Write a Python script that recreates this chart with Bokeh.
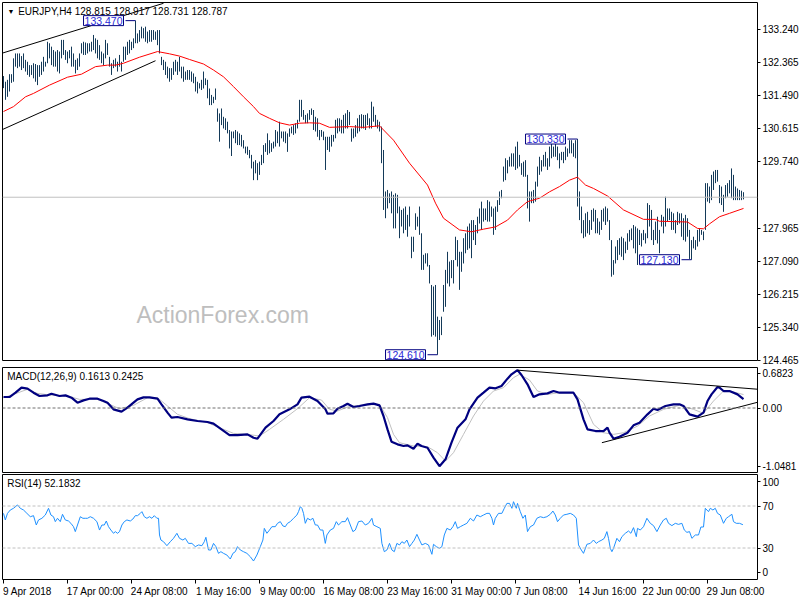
from bokeh.plotting import figure
from bokeh.layouts import column
from bokeh.models import (Range1d, FixedTicker, PrintfTickFormatter, CustomJSTickFormatter,
                          Span, Label)
from bokeh.embed import file_html
from bokeh.resources import INLINE

# ---------------- data ----------------
symbol = "EURJPY,H4"
last_ohlc = [128.815, 128.917, 128.731, 128.787]
last_close = 128.787

bar_high = [
    132.00, 131.85, 131.90, 132.05, 132.05, 132.47, 132.60, 132.60, 132.60, 132.53,
    132.60, 132.43, 132.38, 132.29, 132.29, 132.34, 132.32, 132.29, 132.29, 132.38,
    132.51, 132.38, 132.91, 132.87, 132.78, 132.69, 132.65, 132.69, 132.65, 132.96,
    132.96, 132.69, 132.65, 132.69, 132.78, 132.60, 132.43, 132.47, 132.60, 132.87,
    132.91, 132.89, 132.87, 132.87, 132.91, 133.09, 133.00, 132.96, 132.82, 132.65,
    132.60, 132.96, 132.87, 132.51, 132.34, 132.43, 132.47, 132.38, 132.56, 132.38,
    132.78, 132.78, 132.91, 132.96, 132.91, 133.00, 133.47, 133.13, 133.22, 133.31,
    133.27, 133.31, 133.18, 133.22, 133.22, 133.22, 133.18, 133.22, 133.22, 132.51,
    132.43, 132.38, 132.25, 132.21, 132.21, 132.38, 132.43, 132.38, 132.51, 132.25,
    132.25, 132.12, 132.16, 132.16, 132.12, 132.07, 131.98, 131.85, 131.81, 131.90,
    132.12, 131.94, 131.90, 131.67, 131.50, 131.45, 131.67, 131.14, 131.01, 131.14,
    130.92, 130.88, 130.79, 130.57, 130.53, 130.53, 130.57, 130.53, 130.48, 130.44,
    130.30, 130.13, 130.13, 130.04, 129.91, 129.73, 129.77, 129.69, 129.73, 129.91,
    130.17, 130.22, 130.48, 130.30, 130.22, 130.26, 130.57, 130.53, 130.79, 130.53,
    130.53, 130.53, 130.48, 130.61, 130.66, 130.70, 130.75, 130.84, 131.37, 131.37,
    131.10, 130.97, 131.01, 131.10, 131.14, 131.10, 130.92, 130.88, 130.57, 130.57,
    130.53, 130.39, 130.39, 130.39, 130.44, 130.44, 130.84, 130.88, 130.88, 130.84,
    130.97, 131.01, 131.10, 131.05, 130.61, 130.61, 130.70, 130.88, 130.97, 130.99,
    130.97, 130.97, 131.01, 130.88, 131.32, 131.19, 130.97, 130.84, 130.79, 130.66,
    130.04, 128.94, 128.98, 128.89, 128.94, 128.85, 128.89, 128.85, 128.54, 128.45,
    128.49, 128.54, 128.32, 128.54, 127.74, 127.74, 128.36, 128.27, 128.54, 127.83,
    127.26, 127.30, 127.30, 126.99, 126.46, 126.42, 126.46, 125.62, 125.53, 125.62,
    126.46, 126.86, 127.34, 127.08, 127.12, 127.12, 127.74, 127.65, 127.34, 127.34,
    127.70, 127.83, 128.01, 128.09, 128.18, 128.18, 128.05, 128.27, 128.49, 128.67,
    128.49, 128.49, 128.71, 128.67, 128.54, 128.49, 128.54, 128.71, 128.94, 128.98,
    129.60, 129.82, 129.77, 129.86, 129.95, 129.95, 130.13, 130.26, 129.91, 129.69,
    129.73, 129.77, 129.38, 128.94, 128.94, 128.98, 129.20, 129.60, 129.86, 129.77,
    129.91, 129.99, 129.82, 130.13, 130.30, 130.13, 130.22, 130.13, 129.95, 129.99,
    129.99, 130.13, 130.08, 130.30, 130.30, 130.22, 130.30, 130.33, 128.94, 128.54,
    128.18, 128.36, 128.40, 128.18, 128.45, 128.49, 128.45, 128.23, 128.14, 128.45,
    128.49, 128.54, 128.49, 128.18, 127.65, 127.12, 127.48, 127.65, 127.70, 127.74,
    127.70, 127.61, 127.83, 127.92, 127.96, 128.05, 128.01, 127.96, 127.92, 127.83,
    127.92, 127.83, 128.63, 128.58, 128.45, 127.92, 128.14, 128.27, 127.92, 128.32,
    128.27, 128.80, 128.49, 128.49, 128.40, 128.36, 128.18, 128.40, 128.36, 128.36,
    128.23, 128.32, 128.23, 127.92, 127.65, 127.74, 127.65, 127.92, 127.96, 127.92,
    127.88, 129.16, 129.16, 129.07, 129.38, 129.47, 129.51, 129.51, 129.11, 129.07,
    128.85, 129.11, 129.16, 129.24, 129.55, 129.38, 129.07, 129.02, 128.98, 128.96,
    128.92]

bar_low = [
    131.68, 131.37, 131.45, 131.59, 131.82, 131.85, 132.25, 132.21, 132.25, 132.16,
    132.21, 132.12, 132.03, 131.98, 132.03, 131.94, 131.85, 131.76, 131.98, 132.03,
    132.12, 132.25, 132.34, 132.47, 132.29, 132.25, 132.25, 132.12, 132.07, 132.47,
    132.56, 132.43, 132.34, 132.47, 132.25, 132.25, 132.07, 132.16, 132.25, 132.60,
    132.56, 132.56, 132.60, 132.65, 132.65, 132.69, 132.60, 132.47, 132.43, 132.34,
    132.29, 132.47, 132.56, 132.25, 132.03, 132.21, 132.25, 132.12, 132.25, 132.12,
    132.38, 132.43, 132.56, 132.60, 132.69, 132.74, 132.87, 132.87, 132.91, 133.00,
    133.00, 132.91, 132.87, 132.91, 132.91, 132.96, 132.96, 132.82, 132.60, 132.29,
    132.16, 132.03, 131.94, 131.85, 131.90, 132.03, 132.12, 132.03, 132.12, 131.94,
    131.85, 131.90, 131.90, 131.90, 131.85, 131.81, 131.59, 131.54, 131.67, 131.63,
    131.67, 131.76, 131.41, 131.23, 131.23, 131.28, 131.37, 130.79, 130.26, 130.70,
    130.61, 130.57, 130.48, 130.08, 129.88, 130.35, 130.22, 130.17, 130.17, 130.13,
    130.08, 129.95, 129.91, 129.82, 129.55, 129.24, 129.42, 129.24, 129.38, 129.64,
    129.69, 129.99, 129.91, 129.95, 129.99, 130.08, 130.13, 130.22, 130.13, 130.35,
    130.26, 130.22, 129.99, 130.39, 130.48, 130.44, 130.48, 130.61, 130.79, 130.92,
    130.84, 130.75, 130.75, 130.84, 130.97, 130.57, 130.53, 130.39, 130.30, 130.39,
    130.30, 129.51, 130.04, 129.99, 130.13, 130.26, 130.35, 130.48, 130.53, 130.48,
    130.48, 130.61, 130.61, 130.70, 130.26, 130.35, 130.39, 130.48, 130.53, 130.61,
    130.61, 130.57, 130.70, 130.61, 130.61, 130.79, 130.66, 130.61, 130.53, 129.69,
    128.45, 128.23, 128.49, 128.63, 128.36, 127.96, 127.96, 128.36, 127.70, 128.01,
    127.83, 127.92, 127.74, 128.01, 127.17, 127.34, 127.92, 128.01, 127.79, 126.86,
    126.86, 127.03, 126.95, 126.50, 125.09, 125.13, 125.09, 124.61, 125.00, 125.13,
    125.75, 125.88, 126.50, 126.42, 126.64, 126.50, 127.12, 126.95, 126.33, 126.81,
    127.03, 127.30, 127.39, 127.43, 127.17, 127.65, 127.52, 127.83, 128.09, 127.92,
    128.14, 128.18, 128.14, 128.14, 128.27, 127.79, 127.92, 128.40, 128.58, 128.76,
    129.20, 129.24, 129.42, 129.60, 129.60, 129.60, 129.51, 129.55, 129.60, 129.38,
    129.33, 129.33, 128.49, 128.14, 128.63, 128.63, 128.67, 129.07, 129.38, 129.47,
    129.60, 129.60, 129.51, 129.60, 129.82, 129.86, 129.86, 129.77, 129.55, 129.77,
    129.69, 129.77, 129.86, 129.95, 129.95, 129.86, 129.82, 128.54, 128.18, 127.83,
    127.70, 127.74, 127.83, 127.79, 127.92, 128.14, 127.83, 127.83, 127.79, 127.92,
    128.14, 128.05, 128.14, 127.65, 126.68, 126.73, 127.03, 127.12, 127.26, 127.21,
    127.12, 127.30, 127.39, 127.61, 127.65, 127.43, 127.30, 126.99, 127.52, 127.48,
    127.65, 127.56, 127.70, 128.01, 127.65, 127.52, 127.65, 127.56, 127.30, 128.01,
    127.83, 128.01, 128.14, 128.18, 127.92, 127.92, 127.83, 128.05, 128.09, 127.74,
    127.65, 127.61, 127.74, 127.15, 127.13, 127.43, 127.39, 127.48, 127.61, 127.79,
    127.65, 127.92, 128.67, 128.63, 128.71, 128.98, 129.16, 129.20, 128.63, 128.58,
    128.40, 128.76, 128.80, 128.89, 128.76, 128.71, 128.71, 128.71, 128.71, 128.71,
    128.73]

# moving average (red)
ma_bars = [0, 5, 11, 15, 23, 32, 39, 46, 52, 56,
           60, 68, 77, 83, 88, 93, 100, 105, 110, 115,
           120, 125, 128, 133, 138, 143, 148, 153, 158, 163,
           173, 180, 188, 195, 203, 212, 216, 220, 228, 234,
           240, 246, 252, 257, 262, 268, 273, 278, 283, 287,
           291, 295, 302, 310, 320, 326, 328, 342, 347, 350,
           353, 358, 363, 370]
ma_vals = [131.06, 131.19, 131.45, 131.54, 131.76, 131.97, 132.05, 132.25, 132.29, 132.29,
           132.34, 132.50, 132.65, 132.59, 132.53, 132.44, 132.32, 132.16, 131.98, 131.72,
           131.45, 131.19, 131.01, 130.88, 130.76, 130.70, 130.75, 130.76, 130.75, 130.64,
           130.66, 130.64, 130.68, 130.30, 129.69, 129.11, 128.63, 128.23, 127.92, 127.87,
           127.94, 128.00, 128.18, 128.45, 128.67, 128.76, 128.93, 129.07, 129.24, 129.32,
           129.11, 129.02, 128.82, 128.45, 128.20, 128.20, 128.15, 128.13, 127.96, 127.95,
           128.08, 128.27, 128.36, 128.49]

# marked swing points
mark_bars = [66, 217, 287, 344]
mark_prices = [133.470, 124.610, 130.330, 127.130]

# channel lines on price (start bar, start price, end bar, end price)
chan_x0 = [-0.5, -0.5]
chan_y0 = [132.61, 130.583]
chan_x1 = [80, 76]
chan_y1 = [133.93, 132.407]

# MACD
macd_title = "MACD(12,26,9) 0.1613 0.2425"
macd_bars = [0, 3, 6, 9, 12, 15, 18, 22, 24, 28,
             31, 34, 37, 40, 43, 47, 50, 52, 55, 59,
             62, 65, 67, 70, 73, 77, 79, 82, 84, 87,
             92, 97, 102, 105, 109, 113, 117, 122, 125, 127,
             131, 135, 138, 143, 147, 149, 153, 157, 161, 162,
             165, 167, 170, 172, 175, 178, 182, 185, 188, 190,
             192, 194, 197, 200, 202, 205, 207, 209, 212, 215,
             218, 221, 224, 227, 231, 233, 237, 240, 243, 246,
             249, 252, 254, 257, 259, 262, 265, 268, 272, 275,
             278, 285, 287, 290, 292, 296, 300, 302, 303, 305,
             308, 312, 315, 318, 322, 325, 327, 331, 335, 338,
             340, 343, 347, 350, 352, 354, 357, 358, 360, 363,
             367, 370]
macd_vals = [0.198, 0.198, 0.276, 0.367, 0.349, 0.276, 0.216, 0.228, 0.258, 0.216,
             0.228, 0.186, 0.096, 0.138, 0.168, 0.168, 0.126, 0.096, -0.024, -0.066,
             0.006, 0.096, 0.156, 0.192, 0.192, 0.168, 0.066, -0.084, -0.174, -0.162,
             -0.204, -0.234, -0.252, -0.282, -0.385, -0.487, -0.487, -0.475, -0.535, -0.553,
             -0.355, -0.234, -0.114, -0.024, 0.066, 0.186, 0.204, 0.126, -0.024, -0.102,
             -0.096, -0.012, 0.036, 0.078, 0.018, 0.036, 0.066, 0.078, 0.048, -0.144,
             -0.385, -0.607, -0.655, -0.685, -0.673, -0.733, -0.643, -0.685, -0.715, -0.895,
             -1.048, -0.925, -0.625, -0.355, -0.204, -0.024, 0.186, 0.276, 0.367, 0.355,
             0.397, 0.529, 0.607, 0.682, 0.595, 0.427, 0.198, 0.246, 0.264, 0.306,
             0.276, 0.276, 0.156, -0.204, -0.385, -0.415, -0.415, -0.355, -0.445, -0.553,
             -0.517, -0.445, -0.312, -0.264, -0.114, -0.012, -0.036, 0.036, 0.066, 0.066,
             0.036, -0.114, -0.156, -0.084, 0.126, 0.246, 0.379, 0.367, 0.306, 0.306,
             0.246, 0.161]
sig_bars = [0, 5, 12, 17, 23, 32, 38, 47, 53, 58,
            65, 72, 77, 82, 87, 93, 102, 108, 115, 122,
            128, 133, 140, 147, 153, 159, 163, 167, 172, 178,
            188, 192, 195, 198, 205, 212, 217, 221, 225, 230,
            235, 240, 245, 250, 255, 258, 263, 267, 272, 278,
            285, 290, 295, 300, 305, 310, 317, 323, 330, 338,
            345, 350, 355, 360, 365, 370]
sig_vals = [0.186, 0.246, 0.337, 0.264, 0.234, 0.216, 0.156, 0.156, 0.066, -0.012,
            0.048, 0.186, 0.186, 0.036, -0.114, -0.192, -0.264, -0.355, -0.457, -0.475,
            -0.505, -0.385, -0.204, -0.012, 0.186, 0.144, -0.024, -0.054, 0.018, 0.048,
            0.066, -0.174, -0.475, -0.625, -0.685, -0.697, -0.805, -0.956, -0.805, -0.475,
            -0.144, 0.126, 0.306, 0.367, 0.547, 0.607, 0.505, 0.306, 0.246, 0.276,
            0.276, 0.096, -0.294, -0.445, -0.475, -0.445, -0.325, -0.144, -0.024, 0.048,
            -0.024, -0.096, 0.126, 0.306, 0.288, 0.243]
macd_tick_labels = ["0.6823", "0.00", "-1.0481"]
macd_tl_x0 = [257, 299.2]
macd_tl_y0 = [0.682, -0.625]
macd_tl_x1 = [377.5, 377.5]
macd_tl_y1 = [0.337, 0.108]

# RSI
rsi_title = "RSI(14) 52.1832"
rsi_bars = [0, 0.9, 2.0, 3.4, 5.0, 7.0, 8.4, 10.0, 11.7, 13.4,
            15.0, 16.4, 17.5, 19.2, 20.9, 22.5, 23.7, 25.0, 25.9, 27.0,
            28.4, 29.5, 30.9, 32.5, 33.7, 35.0, 35.9, 37.0, 38.4, 39.7,
            40.9, 42.0, 43.4, 45.0, 46.7, 48.0, 49.2, 50.4, 51.4, 52.5,
            53.7, 55.0, 55.9, 57.0, 58.0, 59.2, 60.4, 61.7, 63.4, 64.7,
            65.9, 67.0, 68.4, 69.2, 70.4, 71.7, 73.0, 74.2, 75.4, 76.7,
            77.5, 78.0, 78.7, 80.0, 81.7, 83.4, 85.0, 86.7, 88.0, 89.7,
            90.9, 92.5, 94.2, 95.9, 97.5, 99.2, 100.4, 101.2, 102.5, 103.7,
            105.0, 106.2, 107.5, 108.7, 110.0, 111.7, 113.4, 114.7, 115.9, 117.0,
            118.4, 120.0, 121.7, 123.4, 125.0, 126.7, 128.4, 129.7, 130.4, 131.7,
            133.0, 134.2, 135.9, 137.0, 138.4, 139.7, 140.9, 142.0, 143.4, 145.0,
            146.7, 147.5, 148.4, 149.2, 150.0, 150.9, 152.0, 153.4, 154.7, 155.9,
            157.0, 158.4, 159.7, 160.9, 161.7, 163.4, 165.0, 166.4, 167.5, 169.2,
            170.9, 172.0, 173.4, 174.7, 175.9, 177.5, 179.2, 180.9, 182.5, 184.2,
            185.0, 186.7, 188.4,
            189.2, 190.4, 191.7, 193.0, 194.2, 195.4, 196.7, 198.0, 199.2, 200.4,
            201.7, 203.0, 204.2, 205.4, 206.7, 208.0, 209.2, 210.9, 212.5, 214.2,
            215.0, 216.4, 218.0, 219.2, 220.4, 221.7, 223.4, 224.7, 225.9, 227.0,
            228.4, 230.0, 231.7, 233.4, 235.0, 236.7, 238.4, 240.0, 241.7, 243.0,
            244.2, 245.0, 245.9, 247.5, 249.2, 250.4, 251.7, 253.0, 254.2, 255.0,
            256.4, 257.0, 258.4, 259.7, 260.9, 262.0, 263.4, 265.0, 266.7, 268.4,
            270.0, 271.7, 273.4, 274.7, 275.9, 277.0, 278.4, 280.0, 281.7, 283.4,
            285.0, 286.4, 287.5, 288.9, 290.0, 291.7, 293.4, 295.0, 296.4, 297.5,
            299.2, 300.4, 301.7, 302.5, 303.4, 304.2, 305.0, 306.7, 308.0, 309.2,
            310.9, 312.5, 313.7, 315.0, 316.4, 317.0, 318.4, 320.0, 321.7, 323.4,
            325.0, 326.7, 328.4, 330.0, 331.4, 332.5, 334.2, 335.9, 337.5, 339.2,
            340.4, 341.7, 343.0, 344.2, 345.9, 347.5, 348.7, 350.0, 350.9, 352.5,
            353.4, 354.7, 355.9, 357.0, 358.4, 360.0, 361.4, 362.5, 364.2, 365.0,
            366.4, 368.0, 369.7]
rsi_vals = [63.0, 56.7, 63.0, 66.2, 67.8, 71.0, 67.8, 66.2, 63.0, 59.8,
            60.8, 51.9, 56.7, 58.3, 61.4, 67.8, 61.4, 59.8, 55.1, 58.3,
            55.1, 62.1, 56.7, 55.7, 53.5, 50.3, 45.6, 51.9, 59.8, 58.3,
            58.3, 58.3, 59.8, 58.3, 55.1, 47.1, 51.9, 51.9, 55.7, 50.3,
            47.1, 44.0, 45.6, 44.0, 45.6, 51.9, 55.1, 56.7, 55.7, 57.6,
            60.8, 60.8, 63.0, 64.6, 59.8, 58.3, 59.8, 58.3, 60.8, 58.3,
            58.3, 42.4, 37.6, 36.0, 32.2, 36.0, 39.2, 44.0, 39.2, 37.6,
            39.2, 34.4, 34.4, 31.3, 32.9, 32.2, 36.0, 40.2, 28.1, 28.1,
            34.4, 31.3, 24.9, 26.5, 24.9, 23.3, 19.5, 24.9, 26.5, 31.3,
            28.1, 26.5, 24.9, 21.7, 17.6, 23.3, 31.3, 37.6, 48.7, 44.0,
            47.1, 50.3, 50.3, 53.5, 55.1, 51.0, 50.3, 53.5, 55.1, 58.3,
            61.4, 64.6, 69.4, 67.8, 63.0, 53.5, 58.3, 56.7, 58.3, 51.9,
            51.9, 47.1, 47.1, 34.4, 42.4, 47.1, 48.7, 55.1, 51.9, 55.1,
            55.1, 58.9, 51.9, 45.6, 47.1, 55.1, 55.7, 51.9, 53.5, 58.3,
            51.9, 50.3, 48.7,
            34.4, 26.5, 28.1, 34.4, 28.1, 26.5, 34.4, 32.9, 36.0, 34.4,
            37.6, 31.3, 34.4, 37.6, 43.0, 37.6, 32.9, 34.4, 32.9, 24.0,
            33.5, 31.3, 29.7, 31.3, 42.4, 48.7, 47.1, 50.3, 55.1, 48.7,
            50.3, 51.9, 53.5, 58.3, 55.7, 61.4, 59.8, 61.4, 63.0, 63.0,
            58.3, 51.9, 58.3, 63.0, 63.0, 67.8, 72.5, 72.5, 67.8, 74.1,
            67.8, 72.5, 64.6, 58.3, 61.4, 45.6, 50.3, 51.9, 58.3, 59.8,
            58.9, 59.8, 62.1, 65.2, 61.4, 55.1, 58.3, 61.4, 62.1, 63.0,
            61.4, 58.3, 32.9, 28.1, 24.9, 33.5, 34.4, 37.6, 34.4, 36.0,
            37.6, 39.2, 45.6, 39.2, 29.7, 26.5, 29.7, 39.2, 36.0, 40.8,
            44.0, 46.2, 44.0, 49.4, 40.8, 48.7, 47.1, 50.3, 58.3, 53.5,
            51.3, 45.6, 51.9, 56.7, 58.3, 53.5, 51.3, 53.5, 52.5, 53.5,
            47.1, 44.9, 45.6, 39.2, 42.4, 42.4, 50.0, 50.0, 67.8, 64.6,
            67.8, 66.2, 67.8, 63.0, 61.4, 53.5, 58.3, 59.8, 62.1, 55.1,
            53.5, 53.5, 52.2]
rsi_levels = [70, 30]
rsi_tick_labels = ["100", "70", "30", "0"]

# price axis tick labels
price_ticks = [133.240, 132.365, 131.490, 130.615, 129.740,
               127.965, 127.090, 126.215, 125.340, 124.465]

# time axis
time_tick_bars = [0, 32, 64, 96, 128, 160, 192, 224, 256, 288, 320, 352]
time_labels = ["9 Apr 2018", "17 Apr 00:00", "24 Apr 08:00", "1 May 16:00",
               "9 May 00:00", "16 May 08:00", "23 May 16:00", "31 May 00:00",
               "7 Jun 08:00", "14 Jun 16:00", "22 Jun 00:00", "29 Jun 08:00"]

# ---------------- layout / style ----------------
FONT = "Liberation Sans"
FS = "10px"
FRAME_W = 755
RIGHT_W = 43
X0 = -0.5
X1 = X0 + FRAME_W / 2.0          # two pixels per bar
BAR_COLOR = "#143a59"
x_range = Range1d(X0, X1)


def base_fig(frame_h, y0, y1, top, bottom, with_x=False):
    p = figure(frame_width=FRAME_W, frame_height=frame_h, x_range=x_range,
               y_range=Range1d(y0, y1), output_backend="svg", toolbar_location=None,
               x_axis_location="below" if with_x else None, y_axis_location="right",
               min_border_left=2, min_border_right=RIGHT_W,
               min_border_top=top, min_border_bottom=bottom,
               background_fill_color="white", border_fill_color="white")
    p.xgrid.visible = False
    p.ygrid.visible = False
    p.outline_line_color = "black"
    p.outline_line_alpha = 1.0
    p.outline_line_width = 1
    ax = p.yaxis[0]
    ax.axis_line_color = None
    ax.major_tick_out = 3
    ax.major_tick_in = 0
    ax.major_tick_line_color = "black"
    ax.minor_tick_out = 0
    ax.minor_tick_in = 0
    ax.major_label_text_font = FONT
    ax.major_label_text_font_size = FS
    ax.major_label_text_color = "black"
    ax.major_label_standoff = 2
    return p


def txt(x, y, s, size=FS, color="black", **kw):
    return Label(x=x, y=y, text=s, text_font=FONT, text_font_size=size,
                 text_color=color, text_baseline="middle", **kw)


# ---- main price panel ----
pm = base_fig(358, 124.457, 133.951, 2, 6)
pm.yaxis[0].ticker = FixedTicker(ticks=price_ticks)
pm.yaxis[0].formatter = PrintfTickFormatter(format="%.3f")

pm.add_layout(Label(x=109.6, y=125.66, text="ActionForex.com", text_font=FONT,
                    text_font_size="23px", text_color="#bebebe", text_align="center",
                    text_baseline="alphabetic"))
pm.add_layout(Span(location=last_close, dimension="width", line_color="#c0c0c0", line_width=1))

bars = list(range(len(bar_high)))
pm.segment(x0=bars, y0=bar_low, x1=bars, y1=bar_high, line_color=BAR_COLOR, line_width=1)
pm.line(ma_bars, ma_vals, line_color="#ff0000", line_width=1)
pm.segment(x0=chan_x0, y0=chan_y0, x1=chan_x1, y1=chan_y1, line_color="black", line_width=1)

pm.segment(x0=[b - 5 for b in mark_bars], y0=mark_prices, x1=mark_bars, y1=mark_prices,
           line_color="#000080", line_width=1)
for b, pr in zip(mark_bars, mark_prices):
    pm.add_layout(Label(x=b - 5, y=pr, x_offset=-2, text=f"{pr:.3f}", text_font=FONT,
                        text_font_size="10.5px", text_color="#2a2ad8", text_align="right",
                        text_baseline="middle", background_fill_color="white",
                        border_line_color="#000080", padding=1))

pm.add_layout(txt(2.0, 133.725, "▼", size="7px"))
pm.add_layout(txt(7.35, 133.725, symbol + "  " + " ".join(f"{v:.3f}" for v in last_ohlc)))
pm.add_layout(Label(x=X1, y=last_close, x_offset=2, text=f"{last_close:.3f}", text_font=FONT,
                    text_font_size=FS, text_color="white", text_align="left",
                    text_baseline="middle", background_fill_color="black", padding=2))

# ---- MACD panel ----
pmacd = base_fig(105, -1.162, 0.730, 1, 1)
macd_tick_pos = [0.63, 0.0, -1.0481]
pmacd.yaxis[0].ticker = FixedTicker(ticks=macd_tick_pos)
pmacd.yaxis[0].formatter = CustomJSTickFormatter(
    args=dict(pos=macd_tick_pos, labs=macd_tick_labels),
    code="""
    let best = 0, d = 1e9;
    for (let i = 0; i < pos.length; i++) {
        const e = Math.abs(pos[i] - tick);
        if (e < d) { d = e; best = i; }
    }
    return labs[best];
    """)
pmacd.add_layout(Span(location=0, dimension="width", line_color="#707070",
                      line_dash="3 2", line_width=1))
pmacd.line(sig_bars, sig_vals, line_color="#c0c0c0", line_width=1)
pmacd.line(macd_bars, macd_vals, line_color="#000080", line_width=2.2)
pmacd.segment(x0=macd_tl_x0, y0=macd_tl_y0, x1=macd_tl_x1, y1=macd_tl_y1,
              line_color="black", line_width=1)
pmacd.add_layout(txt(1.85, 0.575, macd_title))

# ---- RSI panel ----
prsi = base_fig(105, 0, 100, 1, 19, with_x=True)
rsi_tick_pos = [93, 70, 30, 7]
prsi.yaxis[0].ticker = FixedTicker(ticks=rsi_tick_pos)
prsi.yaxis[0].major_label_overrides = {k: v for k, v in zip(rsi_tick_pos, rsi_tick_labels)}
for lv in rsi_levels:
    prsi.add_layout(Span(location=lv, dimension="width", line_color="#c0c0c0",
                         line_dash="3 2", line_width=1))
prsi.line(rsi_bars, rsi_vals, line_color="#1e90ff", line_width=1)
prsi.add_layout(txt(1.85, 91.2, rsi_title))

CW = {" ": 278, ":": 278, "A": 667, "p": 556, "r": 333, "M": 833, "a": 556,
      "y": 500, "J": 500, "u": 556, "n": 556}


def text_w(s, size=10):
    return sum(CW.get(c, 556) for c in s) * size / 1000.0


px_per_bar = FRAME_W / (X1 - X0)
centers = [int(round(b + text_w(s) / 2 / px_per_bar)) for b, s in zip(time_tick_bars, time_labels)]
xa = prsi.xaxis[0]
xa.ticker = FixedTicker(ticks=centers, minor_ticks=time_tick_bars)
xa.major_label_overrides = {c: s for c, s in zip(centers, time_labels)}
xa.axis_line_color = None
xa.major_tick_out = 0
xa.major_tick_in = 0
xa.minor_tick_out = 4
xa.minor_tick_in = 0
xa.minor_tick_line_color = "black"
xa.major_label_text_font = FONT
xa.major_label_text_font_size = FS
xa.major_label_text_color = "black"
xa.major_label_standoff = 2

layout = column(pm, pmacd, prsi, spacing=0)
open("out.html", "w").write(file_html(layout, INLINE))
